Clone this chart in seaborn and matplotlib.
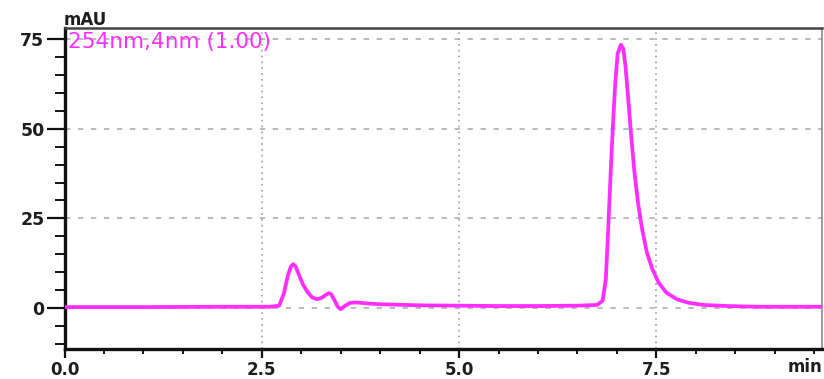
import matplotlib
matplotlib.use("Agg")
import matplotlib.pyplot as plt
from matplotlib.ticker import MultipleLocator, FormatStrFormatter
import seaborn as sns
import pandas as pd

# Retention time (min) and detector response (mAU) at 254 nm
time_min = [0.0, 1.0, 2.0, 2.6, 2.72, 2.78, 2.83, 2.87, 2.90, 2.93, 2.97, 3.02,
            3.08, 3.14, 3.20, 3.26, 3.31, 3.35, 3.38, 3.42, 3.46, 3.50, 3.55,
            3.62, 3.70, 3.85, 4.0, 4.5, 5.0, 5.5, 6.0, 6.5, 6.75, 6.82, 6.86,
            6.89, 6.92, 6.95, 6.98, 7.01, 7.05, 7.08, 7.11, 7.14, 7.18, 7.22,
            7.27, 7.32, 7.38, 7.45, 7.53, 7.63, 7.76, 7.91, 8.1, 8.4, 8.8,
            9.2, 9.6]
signal_mau = [0.2, 0.2, 0.3, 0.3, 0.6, 4.0, 9.0, 11.6, 12.2, 11.5, 9.3, 6.6,
              4.4, 2.9, 2.4, 2.8, 3.6, 4.1, 3.8, 2.2, 0.4, -0.4, 0.5,
              1.4, 1.5, 1.2, 1.0, 0.7, 0.6, 0.5, 0.5, 0.6, 0.8, 2.0, 8.0,
              22.0, 37.0, 51.0, 63.0, 71.0, 73.5, 72.5, 67.5, 59.5, 48.5, 38.5,
              29.0, 22.0, 15.5, 10.8, 7.0, 4.2, 2.4, 1.4, 0.8, 0.5, 0.3,
              0.3, 0.3]

x_ticks = [0.0, 2.5, 5.0, 7.5]
y_ticks = [0, 25, 50, 75]
channel_label = "254nm,4nm (1.00)"

df = pd.DataFrame({"time": time_min, "signal": signal_mau})

sns.set_theme(style="white")
plt.rcParams["font.family"] = ["DejaVu Sans"]

fig = plt.figure(figsize=(8.24, 3.79), dpi=100)
ax = fig.add_axes([0.0783, 0.0792, 0.9193, 0.8470])

line_color = "#ff2eff"
text_color = "#1e1e1e"

sns.lineplot(data=df, x="time", y="signal", ax=ax, color=line_color,
             linewidth=2.7, zorder=3)

ax.set_xlim(0, 9.6)
ax.set_ylim(-11.5, 78.2)
ax.set_xticks(x_ticks)
ax.set_yticks(y_ticks)
ax.xaxis.set_major_formatter(FormatStrFormatter("%.1f"))
ax.xaxis.set_minor_locator(MultipleLocator(0.5))
ax.yaxis.set_minor_locator(MultipleLocator(5))
ax.set_xlabel("")
ax.set_ylabel("")

# grid: dotted verticals, dashed horizontals
ax.xaxis.grid(True, which="major", linestyle=(0, (1, 2.5)), color="#a0a0a0",
              linewidth=1.2, zorder=1)
ax.yaxis.grid(True, which="major", linestyle=(0, (3.5, 5)), color="#a8a8a8",
              linewidth=1.1, zorder=1)
ax.set_axisbelow(True)

for side in ("left", "bottom"):
    ax.spines[side].set_color("#111111")
    ax.spines[side].set_linewidth(2.4)
ax.spines["top"].set_color("#444444")
ax.spines["top"].set_linewidth(1.8)
ax.spines["right"].set_color("#8a8a8a")
ax.spines["right"].set_linewidth(1.2)

ax.tick_params(axis="y", which="major", direction="out", length=13, width=1.6,
               color="#111111", pad=1.5, labelsize=12.5, labelcolor=text_color,
               left=True)
ax.tick_params(axis="y", which="minor", direction="out", length=7, width=1.4,
               color="#111111", left=True)
ax.tick_params(axis="x", which="major", direction="out", length=6.5, width=1.6,
               color="#111111", pad=2.5, labelsize=12, labelcolor=text_color,
               bottom=True)
ax.tick_params(axis="x", which="minor", direction="out", length=3.6, width=1.4,
               color="#111111", bottom=True)
for lbl in ax.get_xticklabels() + ax.get_yticklabels():
    lbl.set_fontweight("bold")

ax.text(0.004, 0.988, channel_label, transform=ax.transAxes, ha="left",
        va="top", color=line_color, fontsize=15.5)

fig.text(107 / 824, 1 - 25 / 379, "mAU", ha="right", va="baseline",
         fontsize=12, fontweight="bold", color=text_color)
fig.text(822 / 824, 3 / 379, "min", ha="right", va="bottom",
         fontsize=12, fontweight="bold", color=text_color)

fig.savefig("out.png", dpi=100)
